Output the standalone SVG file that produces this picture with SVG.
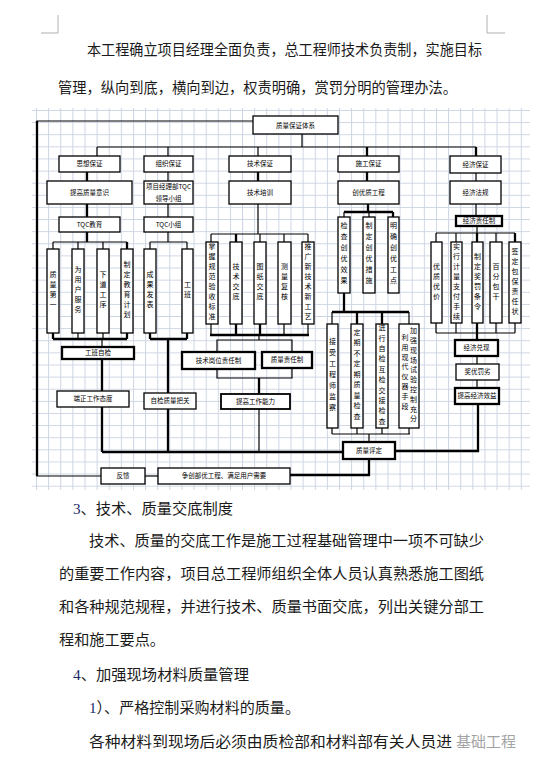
<svg xmlns="http://www.w3.org/2000/svg" width="541" height="765" viewBox="0 0 541 765">
<style>
.b{fill:#fff;stroke:#000;stroke-width:1.3}
.bt{fill:#fff;stroke:#000;stroke-width:2.3}
.t{font-family:"Noto Sans CJK SC","Noto Sans CJK JP",sans-serif;font-size:6.5px;text-anchor:middle;fill:#000}
.v{font-family:"Noto Sans CJK SC","Noto Sans CJK JP",sans-serif;font-size:7px;writing-mode:vertical-rl;text-orientation:upright;letter-spacing:3px;text-anchor:middle;fill:#000}
.ln{fill:none;stroke:#000;stroke-width:1.2}
.lk{fill:none;stroke:#000;stroke-width:2.3}
.p{font-family:"Noto Sans CJK SC","Noto Sans CJK JP",sans-serif;font-size:15px;fill:#1a1a1a}
.n{font-family:"Liberation Serif",serif;fill:#1a2a6a}
.cm{fill:none;stroke:#b0b0b0;stroke-width:1}
</style>
<defs>
<pattern id="grid" patternUnits="userSpaceOnUse" x="36" y="110" width="12.12" height="12.12">
<path d="M0,0.5 H12.12 M0.5,0 V12.12" fill="none" stroke="#cdd5e4" stroke-width="1"/>
</pattern>
</defs>
<rect width="541" height="765" fill="#fff"/>
<path class="cm" d="M41,33 H58 V15 M487,15 V33 H505"/>
<text class="p" x="87" y="55" font-size="14.5" textLength="395" lengthAdjust="spacingAndGlyphs">本工程确立项目经理全面负责，总工程师技术负责制，实施目标</text>
<text class="p" x="58" y="93" font-size="14.5" textLength="399" lengthAdjust="spacingAndGlyphs">管理，纵向到底，横向到边，权责明确，赏罚分明的管理办法。</text>
<rect x="32" y="108" width="498" height="382" fill="url(#grid)"/>

<g id="connectors">
<path class="ln" d="M253,121 H37 V476 H101"/>
<path class="lk" d="M37,121 V476"/>
<path class="ln" d="M302,134 V147 M97,147 H476 M97,147 V156 M168,147 V156 M258,147 V156"/>
<path class="lk" d="M367,147 V156 M476,147 V156"/>
<path class="lk" d="M87,172 V181 M258,172 V181 M367,172 V181"/>
<path class="ln" d="M168,172 V181 M476,173 V181"/>
<path class="lk" d="M87,204 V217"/>
<path class="ln" d="M168,204 V217 M476,204 V216"/>
<!-- TQC education subtree -->
<path class="lk" d="M87,232 V242"/>
<path class="ln" d="M53,242 H127 M53,242 V249 M78,242 V249 M103,242 V249"/>
<path class="lk" d="M127,242 V249"/>
<path class="lk" d="M53,333 V339 M127,333 V339 M53,339 H127"/>
<path class="ln" d="M78,333 V339 M103,333 V339"/>
<path class="ln" d="M102,339 V347"/>
<path class="lk" d="M102,359 V391 M102,407 V452"/>
<!-- TQC group subtree -->
<path class="ln" d="M168,232 V242 M150,242 H187 M150,242 V249 M187,242 V249"/>
<path class="lk" d="M150,333 V339 M187,333 V339 M150,339 H187 M168,339 V393 M168,409 V452"/>
<!-- technical training subtree -->
<path class="ln" d="M258,204 V234 M211,234 H308 M211,234 V242 M260,234 V242 M284,234 V242 M308,234 V242"/>
<path class="lk" d="M236,234 V242"/>
<path class="ln" d="M211,324 V335 M284,324 V335 M308,324 V335"/>
<path class="lk" d="M236,324 V335 M260,324 V335 M210,335 H309"/>
<path class="ln" d="M259,335 V340 M217,352 V340 H292 V352 M217,369 V378 H292 V369"/>
<path class="lk" d="M259,378 V394"/>
<path class="ln" d="M259,409 V452"/>
<path class="lk" d="M102,452 H343"/>
<!-- quality project subtree -->
<path class="lk" d="M368,204 V212 M344,212 H393 M393,212 V217"/>
<path class="ln" d="M344,212 V217 M369,212 V217"/>
<path class="lk" d="M344,293 V312 M332,312 H409 M357,312 V324 M382,312 V324"/>
<path class="ln" d="M332,312 V324 M409,312 V324"/>
<path class="ln" d="M332,428 V434 M357,428 V434 M382,428 V434 M409,428 V434 M332,434 H410 M369,434 V442"/>
<path class="lk" d="M395,451 H478 V404"/>
<path class="lk" d="M369,459 V475 H290"/>
<path class="ln" d="M145,476 H158"/>
<!-- economic subtree -->
<path class="ln" d="M477,226 V233 M436,233 H515 M436,233 V242 M456,233 V242 M496,233 V242"/>
<path class="lk" d="M477,233 V242 M515,233 V242"/>
<path class="ln" d="M436,323 V333 M456,323 V333 M496,323 V333 M515,323 V333 M436,333 H515"/>
<path class="lk" d="M477,323 V340"/>
<path class="ln" d="M477,356 V364 M477,380 V388"/>
</g>

<g id="n-top"><rect class="b" x="253" y="116" width="85" height="18"/><text class="t" x="295.5" y="127.5">质量保证体系</text></g>

<g id="n-sixiang"><rect class="b" x="59" y="156" width="61" height="16"/><text class="t" x="89.5" y="166.3">思想保证</text></g>
<g id="n-zuzhi"><rect class="b" x="144" y="156" width="49" height="16"/><text class="t" x="168.5" y="166.3">组织保证</text></g>
<g id="n-jishu"><rect class="b" x="229" y="156" width="62" height="16"/><text class="t" x="260" y="166.3">技术保证</text></g>
<g id="n-shigong"><rect class="b" x="338" y="156" width="61" height="16"/><text class="t" x="368.5" y="166.3">施工保证</text></g>
<g id="n-jingji"><rect class="b" x="450" y="156" width="51" height="17"/><text class="t" x="475.5" y="167">经济保证</text></g>

<g id="n-yishi"><rect class="b" x="47" y="181" width="85" height="23"/><text class="t" x="89.5" y="194.8">提高质量意识</text></g>
<g id="n-lingdao"><rect class="b" x="144" y="181" width="49" height="23"/><text class="t" x="168.5" y="189">项目经理部TQC</text><text class="t" x="168.5" y="201">领导小组</text></g>
<g id="n-peixun"><rect class="b" x="229" y="181" width="62" height="23"/><text class="t" x="260" y="194.8">技术培训</text></g>
<g id="n-chuangyou"><rect class="b" x="338" y="181" width="61" height="23"/><text class="t" x="368.5" y="194.8">创优质工程</text></g>
<g id="n-fagui"><rect class="b" x="450" y="181" width="51" height="23"/><text class="t" x="475.5" y="194.8">经济法规</text></g>

<g id="n-tqcjy"><rect class="b" x="59" y="217" width="61" height="15"/><text class="t" x="89.5" y="226.8">TQC教育</text></g>
<g id="n-tqcxz"><rect class="b" x="144" y="217" width="49" height="15"/><text class="t" x="168.5" y="226.8">TQC小组</text></g>
<g id="n-zerenzhi"><rect class="bt" x="456" y="216" width="46" height="10"/><text class="t" x="479" y="223.3">经济责任制</text></g>

<g id="n-v1"><rect class="b" x="47" y="249" width="12" height="84"/><text class="v" x="53" y="291">质量第一</text></g>
<g id="n-v2"><rect class="b" x="72" y="249" width="12" height="84"/><text class="v" x="78" y="291">为用户服务</text></g>
<g id="n-v3"><rect class="b" x="97" y="249" width="12" height="84"/><text class="v" x="103" y="291">下道工序</text></g>
<g id="n-v4"><rect class="b" x="121" y="249" width="12" height="84"/><text class="v" x="127" y="291">制定教育计划</text></g>
<g id="n-v5"><rect class="b" x="144" y="249" width="12" height="84"/><text class="v" x="150" y="291">成果发表</text></g>
<g id="n-v6"><rect class="b" x="182" y="249" width="11" height="84"/><text class="v" x="187.5" y="291">工班</text></g>

<g id="n-t1"><rect class="b" x="206" y="242" width="12" height="82"/><text class="v" x="212" y="283">掌握规范验收标准</text></g>
<g id="n-t2"><rect class="b" x="230" y="242" width="12" height="82"/><text class="v" x="236" y="283">技术交底</text></g>
<g id="n-t3"><rect class="b" x="254" y="242" width="12" height="82"/><text class="v" x="260" y="283">图纸交底</text></g>
<g id="n-t4"><rect class="b" x="278" y="242" width="13" height="82"/><text class="v" x="284.5" y="283">测量复核</text></g>
<g id="n-t5"><rect class="b" x="302" y="242" width="12" height="82"/><text class="v" x="308" y="283">推广新技术新工艺</text></g>

<g id="n-c1"><rect class="b" x="338" y="217" width="12" height="76"/><text class="v" x="344" y="255" style="letter-spacing:4px">检查创优效果</text></g>
<g id="n-c2"><rect class="b" x="363" y="217" width="12" height="76"/><text class="v" x="369" y="255" style="letter-spacing:4px">制定创优措施</text></g>
<g id="n-c3"><rect class="b" x="388" y="217" width="11" height="76"/><text class="v" x="393.5" y="255" style="letter-spacing:4px">明确创优工点</text></g>

<g id="n-d1"><rect class="b" x="327" y="324" width="11" height="104"/><text class="v" x="332.5" y="376" style="letter-spacing:4px">接受工程师监察</text></g>
<g id="n-d2"><rect class="b" x="351" y="324" width="12" height="104"/><text class="v" x="357" y="376" style="letter-spacing:3.5px">定期不定期质量检查</text></g>
<g id="n-d3"><rect class="b" x="376" y="324" width="12" height="104"/><text class="v" x="382" y="376" style="letter-spacing:3.4px">进行自检互检交接检查</text></g>
<g id="n-d4"><rect class="b" x="399" y="324" width="20" height="104"/><text class="v" x="413.5" y="376" style="letter-spacing:2.8px">加强现场试验控制充分</text><text class="v" x="405" y="373" style="letter-spacing:2.8px">利用现代仪器手段</text></g>

<g id="n-e1"><rect class="b" x="431" y="242" width="11" height="81"/><text class="v" x="436.5" y="282.5">优质优价</text></g>
<g id="n-e2"><rect class="b" x="451" y="242" width="11" height="81"/><text class="v" x="456.5" y="282.5">实行计量支付手续</text></g>
<g id="n-e3"><rect class="b" x="472" y="242" width="11" height="81"/><text class="v" x="477.5" y="282.5">制定奖罚条令</text></g>
<g id="n-e4"><rect class="b" x="490" y="242" width="12" height="81"/><text class="v" x="496" y="282.5">百分包干</text></g>
<g id="n-e5"><rect class="b" x="509" y="242" width="12" height="81"/><text class="v" x="515" y="282.5">签定包保责任状</text></g>

<g id="n-gongban"><rect class="bt" x="62" y="347" width="72" height="12"/><text class="t" x="98" y="355.3">工班自检</text></g>
<g id="n-taidu"><rect class="b" x="57" y="391" width="72" height="16"/><text class="t" x="93" y="401.3">端正工作态度</text></g>
<g id="n-bagun"><rect class="b" x="144" y="393" width="52" height="16"/><text class="t" x="170" y="403.3">自检质量把关</text></g>
<g id="n-gangwei"><rect class="bt" x="182" y="352" width="73" height="17"/><text class="t" x="218.5" y="362.8">技术岗位责任制</text></g>
<g id="n-zlzr"><rect class="bt" x="262" y="352" width="50" height="16"/><text class="t" x="287" y="362.3">质量责任制</text></g>
<g id="n-nengli"><rect class="bt" x="221" y="394" width="69" height="15" style="stroke-width:1.8"/><text class="t" x="255.5" y="403.8">提高工作能力</text></g>

<g id="n-duixian"><rect class="bt" x="455" y="340" width="43" height="16"/><text class="t" x="476.5" y="350.3">经济兑现</text></g>
<g id="n-jiangyou"><rect class="b" x="456" y="364" width="43" height="16"/><text class="t" x="477.5" y="374.3">奖优罚劣</text></g>
<g id="n-xiaoyi"><rect class="bt" x="455" y="388" width="44" height="16"/><text class="t" x="477" y="398.3">提高经济效益</text></g>

<g id="n-pingding"><rect class="bt" x="343" y="442" width="52" height="17"/><text class="t" x="369" y="452.8">质量评定</text></g>
<g id="n-fankui"><rect class="b" x="101" y="468" width="44" height="16"/><text class="t" x="123" y="478.3">反馈</text></g>
<g id="n-zhengchuang"><rect class="b" x="158" y="468" width="132" height="16"/><text class="t" x="224" y="478.3">争创部优工程、满足用户需要</text></g>

<text class="p" x="73" y="514" textLength="160" lengthAdjust="spacingAndGlyphs"><tspan class="n">3</tspan>、技术、质量交底制度</text>
<text class="p" x="89" y="546" textLength="395" lengthAdjust="spacingAndGlyphs">技术、质量的交底工作是施工过程基础管理中一项不可缺少</text>
<text class="p" x="59" y="579" textLength="425" lengthAdjust="spacingAndGlyphs">的重要工作内容，项目总工程师组织全体人员认真熟悉施工图纸</text>
<text class="p" x="59" y="612" textLength="425" lengthAdjust="spacingAndGlyphs">和各种规范规程，并进行技术、质量书面交底，列出关键分部工</text>
<text class="p" x="59" y="645" textLength="106" lengthAdjust="spacingAndGlyphs">程和施工要点。</text>
<text class="p" x="73" y="680" textLength="176" lengthAdjust="spacingAndGlyphs"><tspan class="n">4</tspan>、加强现场材料质量管理</text>
<text class="p" x="89" y="713" textLength="211" lengthAdjust="spacingAndGlyphs"><tspan class="n">1</tspan>）、严格控制采购材料的质量。</text>
<text class="p" x="89" y="747" textLength="363" lengthAdjust="spacingAndGlyphs">各种材料到现场后必须由质检部和材料部有关人员进</text>
<text x="456" y="747" style="font-family:'Noto Sans CJK SC',sans-serif;font-size:15px;fill:#9a9a9a;opacity:0.9">基础工程</text>
</svg>
